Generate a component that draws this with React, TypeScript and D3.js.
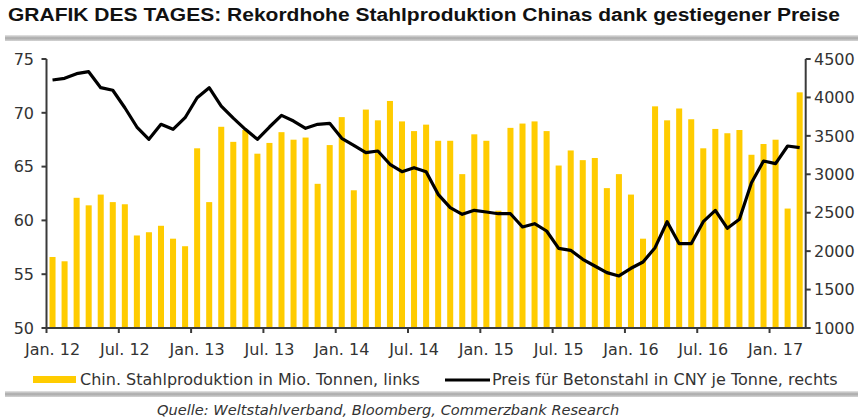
import React from "react";
import * as d3 from "d3";

// monthly data Jan 2012 .. Mar 2017
const steelOutput = [
  56.6, 56.2, 62.1, 61.4, 62.4, 61.7, 61.5, 58.6, 58.9, 59.5, 58.3, 57.6,
  66.7, 61.7, 68.7, 67.3, 68.4, 66.2, 67.2, 68.2, 67.5, 67.7, 63.4, 67.0,
  69.6, 62.8, 70.3, 69.3, 71.1, 69.2, 68.3, 68.9, 67.4, 67.4, 64.3, 68.0,
  67.4, 60.9, 68.6, 69.0, 69.2, 68.3, 65.1, 66.5, 65.6, 65.8, 63.0, 64.3,
  62.4, 58.3, 70.6, 69.3, 70.4, 69.4, 66.7, 68.5, 68.1, 68.4, 66.1, 67.1,
  67.5, 61.1, 71.9,
];

const rebarPrice = [
  4227, 4249, 4309, 4335, 4127, 4093, 3866, 3615, 3455, 3650, 3585, 3736,
  3996, 4127, 3888, 3730, 3585, 3455, 3615, 3767, 3693, 3598, 3650, 3663,
  3468, 3377, 3281, 3303, 3130, 3034, 3086, 3034, 2739, 2566, 2479, 2531,
  2509, 2487, 2487, 2314, 2357, 2262, 2037, 2011, 1894, 1807, 1720, 1677,
  1777, 1859, 2045, 2383, 2097, 2097, 2383, 2531, 2297, 2414, 2890, 3173,
  3138, 3368, 3346,
];

const leftTicks = [50, 55, 60, 65, 70, 75];
const rightTicks = [1000, 1500, 2000, 2500, 3000, 3500, 4000, 4500];
const xTickIdx = d3.range(0, 61, 6);
const xTickLabels = ["Jan. 12", "Jul. 12", "Jan. 13", "Jul. 13", "Jan. 14", "Jul. 14",
  "Jan. 15", "Jul. 15", "Jan. 16", "Jul. 16", "Jan. 17"];

const title = "GRAFIK DES TAGES: Rekordhohe Stahlproduktion Chinas dank gestiegener Preise";
const legendBars = "Chin. Stahlproduktion in Mio. Tonnen, links";
const legendLine = "Preis für Betonstahl in CNY je Tonne, rechts";
const source = "Quelle: Weltstahlverband, Bloomberg, Commerzbank Research";

const width = 863;
const height = 419;
const plotLeft = 46.5;
const plotRight = 805.7;
const plotTop = 59;
const plotBottom = 328;
const axisColor = "#3a3a3a";
const textColor = "#333";
const font = "DejaVu Sans, sans-serif";

export default function App() {
  const x = d3
    .scaleBand<number>()
    .domain(d3.range(steelOutput.length))
    .range([plotLeft, plotRight])
    .paddingInner(0.5)
    .paddingOuter(0.25);
  const yL = d3.scaleLinear().domain([50, 75]).range([plotBottom, plotTop]);
  const yR = d3.scaleLinear().domain([1000, 4500]).range([plotBottom, plotTop]);

  const center = (i: number) => x(i)! + x.bandwidth() / 2;
  const tickX = (i: number) => center(i) - x.step() / 2;

  const line = d3
    .line<number>()
    .x((_, i) => center(i))
    .y((d) => yR(d))
    .curve(d3.curveLinear);

  return (
    <svg width={width} height={height} style={{ position: "absolute", left: 0, top: 0, background: "#fff" }}>
      <defs>
        <linearGradient id="sep" x1="0" y1="0" x2="0" y2="1">
          <stop offset="0" stopColor="#e6e6e6" />
          <stop offset="0.5" stopColor="#a8a8a8" />
          <stop offset="1" stopColor="#d4d4d4" />
        </linearGradient>
      </defs>

      <text x={8} y={21} fontFamily="Liberation Sans, Arial, sans-serif" fontWeight="bold" fontSize={18}
        fill="#111" textLength={832} lengthAdjust="spacingAndGlyphs">{title}</text>
      <rect x={5} y={35} width={853} height={6} fill="url(#sep)" />

      {/* bars */}
      {steelOutput.map((v, i) => (
        <rect key={i} x={x(i)} y={yL(v)} width={x.bandwidth()} height={plotBottom - yL(v)} fill="#ffcc00" />
      ))}

      {/* price line */}
      <path d={line(rebarPrice) ?? ""} fill="none" stroke="#000" strokeWidth={3.2} strokeLinejoin="round" />

      {/* axes */}
      <g stroke={axisColor} strokeWidth={2} fill="none">
        <line x1={plotLeft} x2={plotLeft} y1={plotTop} y2={plotBottom} />
        <line x1={plotRight} x2={plotRight} y1={plotTop} y2={plotBottom} />
        <line x1={plotLeft - 1} x2={plotRight + 1} y1={plotBottom} y2={plotBottom} />
        {leftTicks.map((t) => (
          <line key={"l" + t} x1={plotLeft - 5} x2={plotLeft} y1={yL(t)} y2={yL(t)} />
        ))}
        {rightTicks.map((t) => (
          <line key={"r" + t} x1={plotRight} x2={plotRight + 5} y1={yR(t)} y2={yR(t)} />
        ))}
        {xTickIdx.map((i) => (
          <line key={"x" + i} x1={tickX(i)} x2={tickX(i)} y1={plotBottom} y2={plotBottom + 5} />
        ))}
      </g>

      <g fontFamily={font} fontSize={16} fill={textColor}>
        {leftTicks.map((t) => (
          <text key={"lt" + t} x={34} y={yL(t)} dy="0.36em" textAnchor="end">{t}</text>
        ))}
        {rightTicks.map((t) => (
          <text key={"rt" + t} x={814} y={yR(t)} dy="0.36em">{t}</text>
        ))}
        {xTickIdx.map((i, k) => (
          <text key={"xt" + i} x={center(i)} y={355} textAnchor="middle">{xTickLabels[k]}</text>
        ))}
      </g>

      {/* legend */}
      <rect x={33} y={376} width={43} height={7} fill="#ffcc00" />
      <text x={80} y={385} fontFamily={font} fontSize={16} fill={textColor}>{legendBars}</text>
      <line x1={445} x2={490} y1={380} y2={380} stroke="#000" strokeWidth={3.2} />
      <text x={492} y={385} fontFamily={font} fontSize={16} fill={textColor}>{legendLine}</text>

      <rect x={5} y={391} width={853} height={6} fill="url(#sep)" />
      <text x={157} y={415} fontFamily={font} fontStyle="italic" fontSize={14.6} fill={textColor}>{source}</text>
    </svg>
  );
}
